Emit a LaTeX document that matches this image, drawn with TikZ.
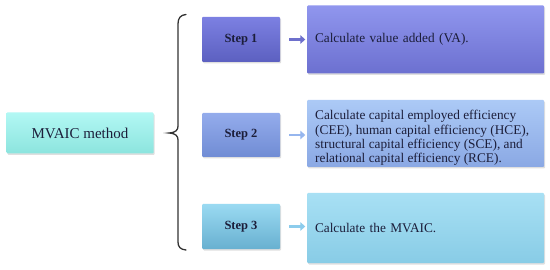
\documentclass[tikz,border=0pt]{standalone}
\usepackage{fontspec}
\setmainfont{Liberation Serif}
\usetikzlibrary{arrows.meta,shadows}
\definecolor{txt}{RGB}{28,30,58}
\definecolor{mA}{RGB}{178,248,244}\definecolor{mB}{RGB}{140,228,222}
\definecolor{sAa}{RGB}{124,128,226}\definecolor{sAb}{RGB}{92,96,192}
\definecolor{bAa}{RGB}{144,150,238}\definecolor{bAb}{RGB}{108,112,208}
\definecolor{sBa}{RGB}{148,172,236}\definecolor{sBb}{RGB}{112,140,212}
\definecolor{bBa}{RGB}{172,202,246}\definecolor{bBb}{RGB}{138,168,228}
\definecolor{sCa}{RGB}{154,218,242}\definecolor{sCb}{RGB}{104,176,208}
\definecolor{bCa}{RGB}{168,224,244}\definecolor{bCb}{RGB}{136,204,230}
\definecolor{arA}{RGB}{110,112,204}\definecolor{arB}{RGB}{150,182,238}\definecolor{arC}{RGB}{140,204,236}
\tikzset{
  box/.style={rectangle, draw=none, rounded corners=1pt, text=txt,
    drop shadow={opacity=0.25, shadow xshift=1pt, shadow yshift=-1.5pt}},
  stepbox/.style={box, minimum width=78pt, font=\fontsize{12.5}{14}\selectfont\bfseries},
  descbox/.style={box, minimum width=237pt, text width=221pt, align=left, inner xsep=8pt,
    font=\fontsize{13.3}{14.3}\selectfont},
  conn/.style={line width=2.6pt, -{Triangle[length=5pt,width=8.5pt]}, shorten <=9pt, shorten >=1.5pt},
}
\begin{document}
\begin{tikzpicture}[x=1pt,y=-1pt]
\useasboundingbox (0,0) rectangle (550,270);
\node[box, minimum width=147pt, minimum height=41pt, top color=mA, bottom color=mB,
  font=\fontsize{15}{17}\selectfont] (m) at (80,133) {MVAIC method};
\node[stepbox, minimum height=45pt, top color=sAa, bottom color=sAb] (s1) at (241,39.5) {Step 1};
\node[stepbox, minimum height=44pt, top color=sBa, bottom color=sBb] (s2) at (241,135) {Step 2};
\node[stepbox, minimum height=45pt, top color=sCa, bottom color=sCb] (s3) at (241,226.5) {Step 3};
\node[descbox, minimum height=68pt, top color=bAa, bottom color=bAb] (b1) at (425.5,39.5) {Calculate value added (VA).};
\node[descbox, minimum height=67pt, top color=bBa, bottom color=bBb] (b2) at (425.5,133.5) {};
\node[text=txt, align=left, inner sep=0pt, anchor=west, font=\fontsize{13.3}{14.3}\selectfont] (b2t) at (315,138)
  {Calculate capital employed efficiency\\(CEE), human capital efficiency (HCE),\\structural capital efficiency (SCE), and\\relational capital efficiency (RCE).};
\node[descbox, minimum height=70pt, top color=bCa, bottom color=bCb] (b3) at (425.5,228) {Calculate the MVAIC.};
\draw[conn, arA] (s1) -- (b1.west |- s1);
\draw[conn, arB] (s2) -- (b2.west |- s2);
\draw[conn, arC] (s3) -- (b3.west |- s3);
\draw[line width=1.3pt, color=black!80, line cap=round]
  (186,14.5) .. controls (180.5,15) and (178,18) .. (178,24) -- (178,126)
  .. controls (178,130) and (176,132.5) .. (169,133)
  .. controls (176,133.5) and (178,136) .. (178,140) -- (178,242)
  .. controls (178,247) and (180.5,249.5) .. (186,250);
\end{tikzpicture}
\end{document}
